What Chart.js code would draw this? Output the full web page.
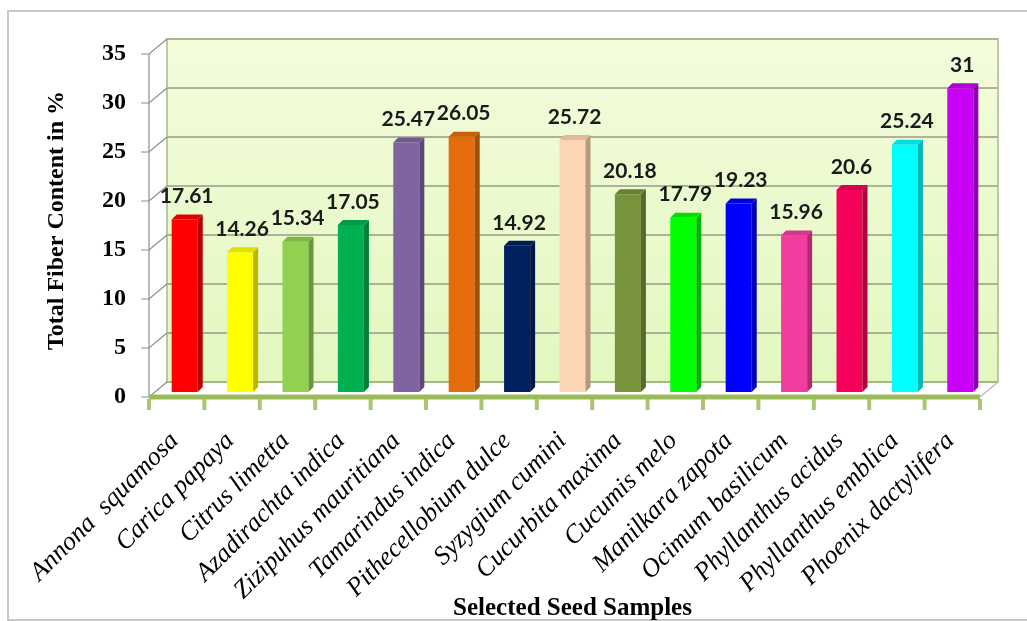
<!DOCTYPE html>
<html><head><meta charset="utf-8">
<script src="https://cdn.jsdelivr.net/npm/chart.js@4"></script>
<style>
html,body{margin:0;padding:0;background:#fff;overflow:hidden}
#frame{position:absolute;left:7px;top:10px;width:1030px;height:611px;border:2px solid #c8c8c8;box-sizing:border-box}
canvas{position:absolute;left:0;top:0}
</style></head>
<body><div id="frame"></div><canvas id="c" width="1027" height="621"></canvas>
<script>
const categories = ["Annona  squamosa","Carica papaya","Citrus limetta","Azadirachta indica","Zizipuhus mauritiana","Tamarindus indica","Pithecellobium dulce","Syzygium cumini","Cucurbita maxima","Cucumis melo","Manilkara zapota","Ocimum basilicum","Phyllanthus acidus","Phyllanthus emblica","Phoenix dactylifera"];
const fiberValues = [17.61,14.26,15.34,17.05,25.47,26.05,14.92,25.72,20.18,17.79,19.23,15.96,20.6,25.24,31];
const valueLabels = ["17.61","14.26","15.34","17.05","25.47","26.05","14.92","25.72","20.18","17.79","19.23","15.96","20.6","25.24","31"];
const barColors = ["#ff0000","#ffff00","#92d050","#00b050","#8064a2","#e46c0a","#002060","#fcd5b5","#77933c","#00ff00","#0000ff","#f23c9f","#f5005a","#00ffff","#c800f5"];
const yTicks = [0,5,10,15,20,25,30,35];
const yTitle = "Total Fiber Content in %";
const xTitle = "Selected Seed Samples";

function shade(hex, f){
  const n=parseInt(hex.slice(1),16);
  const r=Math.round(((n>>16)&255)*f), g=Math.round(((n>>8)&255)*f), b=Math.round((n&255)*f);
  return `rgb(${r},${g},${b})`;
}
const FRONT={dx:-8,dy:5}, BACK={dx:10,dy:-10};

const wallPlugin={
  id:'wall',
  beforeDatasetsDraw(chart){
    const {ctx,chartArea:a,scales:{x,y}}=chart;
    ctx.save();
    const g=ctx.createLinearGradient(0,a.top+BACK.dy,0,a.bottom+BACK.dy);
    g.addColorStop(0,'#f4fcdc');g.addColorStop(1,'#e2f8bf');
    ctx.fillStyle=g;
    ctx.fillRect(a.left+BACK.dx,a.top+BACK.dy,a.right-a.left,a.bottom-a.top);
    ctx.strokeStyle='#9a9a84';ctx.lineWidth=1.5;
    yTicks.forEach(v=>{
      const py=y.getPixelForValue(v);
      ctx.beginPath();ctx.moveTo(a.left+BACK.dx,py+BACK.dy);ctx.lineTo(a.right+BACK.dx,py+BACK.dy);ctx.stroke();
    });
    ctx.strokeStyle='#a8b88a';ctx.lineWidth=1.5;
    ctx.strokeRect(a.left+BACK.dx,a.top+BACK.dy,a.right-a.left,a.bottom-a.top);
    ctx.strokeStyle='#8c8c8c';ctx.lineWidth=1.2;
    yTicks.forEach(v=>{
      const py=y.getPixelForValue(v);
      ctx.beginPath();
      ctx.moveTo(a.left+FRONT.dx-8,py+FRONT.dy);
      ctx.lineTo(a.left+FRONT.dx,py+FRONT.dy);
      ctx.lineTo(a.left+BACK.dx,py+BACK.dy);
      ctx.stroke();
    });
    ctx.beginPath();
    ctx.moveTo(a.left+FRONT.dx,y.getPixelForValue(35)+FRONT.dy);
    ctx.lineTo(a.left+FRONT.dx,y.getPixelForValue(0)+FRONT.dy);
    ctx.stroke();
    ctx.strokeStyle='#b8b8b8';
    ctx.beginPath();
    ctx.moveTo(a.right+FRONT.dx,a.bottom+FRONT.dy);
    ctx.lineTo(a.right+BACK.dx,a.bottom+BACK.dy);
    ctx.stroke();
    ctx.strokeStyle='#9bbb59';ctx.lineWidth=5;
    ctx.beginPath();
    ctx.moveTo(a.left+FRONT.dx,a.bottom+FRONT.dy);
    ctx.lineTo(a.right+FRONT.dx,a.bottom+FRONT.dy);
    ctx.stroke();
    ctx.strokeStyle='#a9c476';ctx.lineWidth=4;
    const n=categories.length, w=(a.right-a.left)/n;
    for(let i=0;i<=n;i++){
      const px=a.left+FRONT.dx+i*w;
      ctx.beginPath();ctx.moveTo(px,a.bottom+FRONT.dy+2);ctx.lineTo(px,a.bottom+FRONT.dy+13);ctx.stroke();
    }
    ctx.restore();
  },
  afterDatasetsDraw(chart){
    const {ctx}=chart;
    const meta=chart.getDatasetMeta(0);
    ctx.save();
    const d=5;
    meta.data.forEach((bar,i)=>{
      const l=bar.x-bar.width/2, r=bar.x+bar.width/2, t=bar.y, b=bar.base;
      ctx.fillStyle=shade(barColors[i],0.72);
      ctx.beginPath();ctx.moveTo(r,t);ctx.lineTo(r+d,t-d);ctx.lineTo(r+d,b-d);ctx.lineTo(r,b);ctx.closePath();ctx.fill();
      ctx.fillStyle=shade(barColors[i],0.88);
      ctx.beginPath();ctx.moveTo(l,t);ctx.lineTo(l+d,t-d);ctx.lineTo(r+d,t-d);ctx.lineTo(r,t);ctx.closePath();ctx.fill();
      ctx.fillStyle='#1a1a1a';
      ctx.font='bold 21px Lato';
      ctx.textAlign='center';ctx.textBaseline='middle';
      ctx.fillText(valueLabels[i],bar.x+2,t-23);
    });
    ctx.restore();
  }
};

new Chart(document.getElementById('c'),{
  type:'bar',
  data:{labels:categories,datasets:[{data:fiberValues,backgroundColor:barColors,borderWidth:0,barPercentage:0.47,categoryPercentage:1}]},
  options:{
    responsive:false,animation:false,devicePixelRatio:1,
    layout:{padding:{top:49,right:39,bottom:0,left:0}},
    plugins:{legend:{display:false},tooltip:{enabled:false}},
    scales:{
      x:{
        grid:{display:false,drawTicks:false},border:{display:false},
        ticks:{font:{family:'"Liberation Serif"',style:'italic',size:26},color:'#000',maxRotation:45,minRotation:45,padding:34,labelOffset:-10,autoSkip:false},
        title:{display:true,text:xTitle,font:{family:'"Liberation Serif"',weight:'bold',size:25},color:'#000',padding:{top:0,bottom:-3}},
        afterFit(s){s.height=229;}
      },
      y:{
        min:0,max:35,
        grid:{display:false,drawTicks:false},border:{display:false},
        afterBuildTicks(s){s.ticks=yTicks.map(v=>({value:v}));},
        ticks:{font:{family:'"Liberation Serif"',weight:'bold',size:24},color:'#000',padding:31,labelOffset:5},
        title:{display:true,text:yTitle,font:{family:'"Liberation Serif"',weight:'bold',size:24},color:'#000',padding:{top:42,bottom:0}},
        afterFit(s){s.width=157;}
      }
    }
  },
  plugins:[wallPlugin]
});
</script>
</body></html>
